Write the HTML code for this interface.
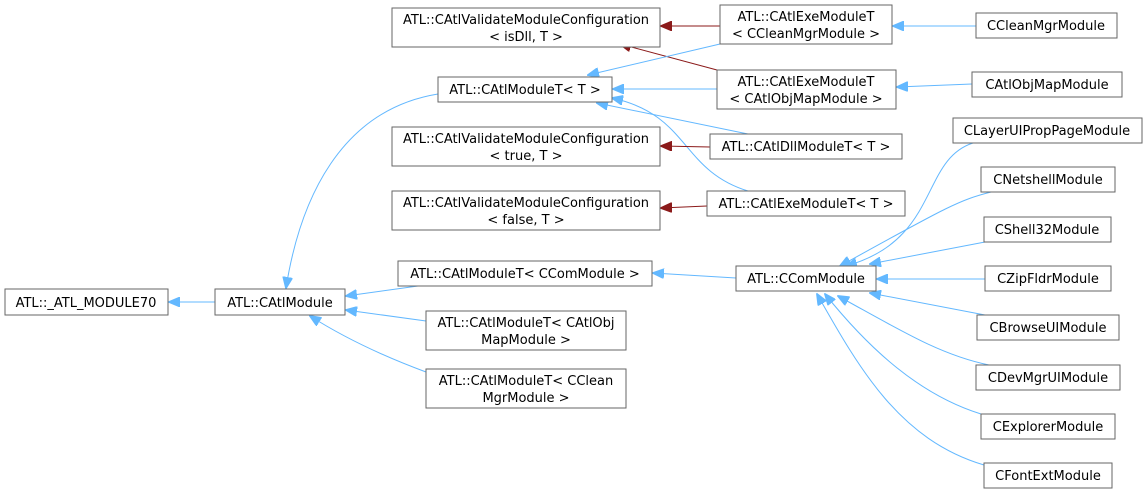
<!DOCTYPE html>
<html><head><meta charset="utf-8"><style>
html,body{margin:0;padding:0;background:#fff;}
svg{display:block;}
text{font-family:"DejaVu Sans","Liberation Sans",sans-serif;font-size:13px;fill:#000;text-anchor:middle;}
rect{fill:#fff;stroke:#666;stroke-width:1;}
.b{fill:none;stroke:#63b8ff;stroke-width:1;}
.r{fill:none;stroke:#8b1a1a;stroke-width:1;}
</style></head><body>
<svg width="1148" height="494" viewBox="0 0 1148 494" xmlns="http://www.w3.org/2000/svg">
<defs>
<marker id="ab" markerWidth="12" markerHeight="10" refX="11" refY="5" orient="auto" markerUnits="userSpaceOnUse"><path d="M0,0 L12,5 L0,10 z" fill="#63b8ff" stroke="#63b8ff"/></marker>
<marker id="ar" markerWidth="12" markerHeight="10" refX="11" refY="5" orient="auto" markerUnits="userSpaceOnUse"><path d="M0,0 L12,5 L0,10 z" fill="#8b1a1a" stroke="#8b1a1a"/></marker>
</defs>
<path class="b" marker-end="url(#ab)" d="M215,302 L169,302"/>
<path class="b" marker-end="url(#ab)" d="M438,94 C340,110 300,200 286,288"/>
<path class="b" marker-end="url(#ab)" d="M418,286 L346,296"/>
<path class="b" marker-end="url(#ab)" d="M426,321 L346,310"/>
<path class="b" marker-end="url(#ab)" d="M426,372 C380,355 340,335 310,316"/>
<path class="b" marker-end="url(#ab)" d="M736,278 L653,273"/>
<path class="r" marker-end="url(#ar)" d="M720,26 L661,26"/>
<path class="r" marker-end="url(#ar)" d="M717,70 L620,44"/>
<path class="b" marker-end="url(#ab)" d="M720,44 L588,75"/>
<path class="b" marker-end="url(#ab)" d="M717,89 L613,89"/>
<path class="b" marker-end="url(#ab)" d="M748,134 L597,103"/>
<path class="b" marker-end="url(#ab)" d="M748,191 C680,170 690,115 612,98"/>
<path class="r" marker-end="url(#ar)" d="M710,147 L661,146"/>
<path class="r" marker-end="url(#ar)" d="M707,206 L661,208"/>
<path class="b" marker-end="url(#ab)" d="M976,26 L893,26"/>
<path class="b" marker-end="url(#ab)" d="M972,84 L897,87"/>
<path class="b" marker-end="url(#ab)" d="M973,143 C920,160 940,240 846,266"/>
<path class="b" marker-end="url(#ab)" d="M991,192 C960,200 950,205 840,266"/>
<path class="b" marker-end="url(#ab)" d="M985,242 L870,264"/>
<path class="b" marker-end="url(#ab)" d="M985,279 L877,279"/>
<path class="b" marker-end="url(#ab)" d="M985,315 L870,293"/>
<path class="b" marker-end="url(#ab)" d="M989,365 C940,355 900,330 838,296"/>
<path class="b" marker-end="url(#ab)" d="M981,414 C920,395 870,350 825,294"/>
<path class="b" marker-end="url(#ab)" d="M984,465 C900,440 860,370 817,294"/>
<rect x="5" y="289" width="163" height="26"/><text x="86" y="307">ATL::_ATL_MODULE70</text>
<rect x="215" y="289" width="130" height="26"/><text x="280" y="307">ATL::CAtlModule</text>
<rect x="392" y="8" width="268" height="39"/><text x="526" y="24">ATL::CAtlValidateModuleConfiguration</text><text x="526" y="41">&lt; isDll, T &gt;</text>
<rect x="438" y="77" width="174" height="25"/><text x="525" y="94">ATL::CAtlModuleT&lt; T &gt;</text>
<rect x="392" y="127" width="268" height="39"/><text x="526" y="143">ATL::CAtlValidateModuleConfiguration</text><text x="526" y="160">&lt; true, T &gt;</text>
<rect x="392" y="191" width="268" height="39"/><text x="526" y="207">ATL::CAtlValidateModuleConfiguration</text><text x="526" y="224">&lt; false, T &gt;</text>
<rect x="398" y="261" width="254" height="25"/><text x="525" y="278">ATL::CAtlModuleT&lt; CComModule &gt;</text>
<rect x="426" y="311" width="200" height="39"/><text x="526" y="327">ATL::CAtlModuleT&lt; CAtlObj</text><text x="526" y="344">MapModule &gt;</text>
<rect x="426" y="369" width="200" height="39"/><text x="526" y="385">ATL::CAtlModuleT&lt; CClean</text><text x="526" y="402">MgrModule &gt;</text>
<rect x="720" y="5" width="172" height="39"/><text x="806" y="21">ATL::CAtlExeModuleT</text><text x="806" y="38">&lt; CCleanMgrModule &gt;</text>
<rect x="717" y="70" width="179" height="39"/><text x="806" y="86">ATL::CAtlExeModuleT</text><text x="806" y="103">&lt; CAtlObjMapModule &gt;</text>
<rect x="710" y="134" width="192" height="25"/><text x="806" y="151">ATL::CAtlDllModuleT&lt; T &gt;</text>
<rect x="707" y="191" width="198" height="25"/><text x="806" y="208">ATL::CAtlExeModuleT&lt; T &gt;</text>
<rect x="736" y="266" width="140" height="25"/><text x="806" y="283">ATL::CComModule</text>
<rect x="976" y="13" width="141" height="25"/><text x="1046" y="30">CCleanMgrModule</text>
<rect x="972" y="72" width="150" height="25"/><text x="1047" y="89">CAtlObjMapModule</text>
<rect x="953" y="118" width="189" height="25"/><text x="1047" y="135">CLayerUIPropPageModule</text>
<rect x="981" y="167" width="134" height="25"/><text x="1048" y="184">CNetshellModule</text>
<rect x="984" y="217" width="127" height="25"/><text x="1047" y="234">CShell32Module</text>
<rect x="985" y="266" width="126" height="25"/><text x="1048" y="283">CZipFldrModule</text>
<rect x="977" y="315" width="142" height="25"/><text x="1048" y="332">CBrowseUIModule</text>
<rect x="976" y="365" width="144" height="25"/><text x="1048" y="382">CDevMgrUIModule</text>
<rect x="981" y="414" width="134" height="25"/><text x="1048" y="431">CExplorerModule</text>
<rect x="984" y="463" width="128" height="25"/><text x="1048" y="480">CFontExtModule</text>
</svg>
</body></html>
